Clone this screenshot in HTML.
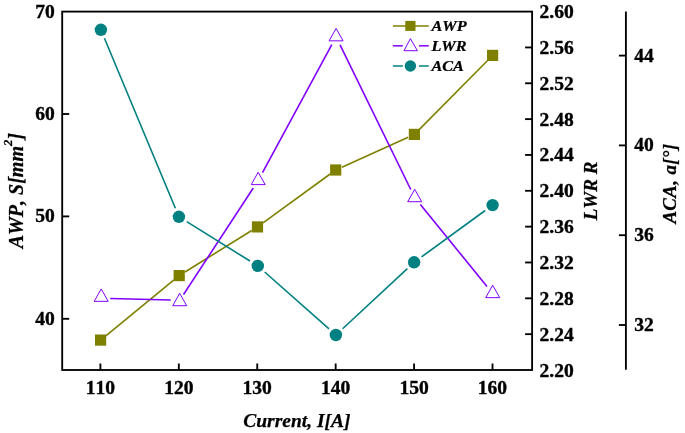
<!DOCTYPE html>
<html><head><meta charset="utf-8"><title>chart</title>
<style>html,body{margin:0;padding:0;background:#fff}svg{display:block;will-change:transform}text{font-kerning:none}text{fill:#000}</style></head>
<body>
<svg width="685" height="433" viewBox="0 0 685 433">
<rect width="685" height="433" fill="#fff"/>
<line x1="105.86" y1="335.79" x2="173.94" y2="279.91" stroke="#808000" stroke-width="1.6"/>
<line x1="184.97" y1="272.01" x2="251.73" y2="230.49" stroke="#808000" stroke-width="1.6"/>
<line x1="263.00" y1="222.90" x2="330.20" y2="174.00" stroke="#808000" stroke-width="1.6"/>
<line x1="341.90" y1="167.20" x2="408.20" y2="137.20" stroke="#808000" stroke-width="1.6"/>
<line x1="419.18" y1="129.57" x2="487.82" y2="60.23" stroke="#808000" stroke-width="1.6"/>
<line x1="110.20" y1="298.44" x2="170.70" y2="300.06" stroke="#8000ff" stroke-width="1.6"/>
<line x1="183.54" y1="294.45" x2="253.27" y2="188.03" stroke="#8000ff" stroke-width="1.6"/>
<line x1="262.49" y1="172.59" x2="331.81" y2="44.61" stroke="#8000ff" stroke-width="1.6"/>
<line x1="340.05" y1="44.79" x2="410.75" y2="189.51" stroke="#8000ff" stroke-width="1.6"/>
<line x1="420.38" y1="204.58" x2="487.02" y2="286.52" stroke="#8000ff" stroke-width="1.6"/>
<line x1="104.44" y1="38.29" x2="175.36" y2="208.31" stroke="#008080" stroke-width="1.6"/>
<line x1="186.71" y1="221.66" x2="249.99" y2="261.04" stroke="#008080" stroke-width="1.6"/>
<line x1="264.69" y1="272.00" x2="329.01" y2="328.90" stroke="#008080" stroke-width="1.6"/>
<line x1="342.64" y1="328.74" x2="407.36" y2="268.56" stroke="#008080" stroke-width="1.6"/>
<line x1="421.54" y1="256.88" x2="485.16" y2="210.52" stroke="#008080" stroke-width="1.6"/>
<rect x="95.00" y="334.50" width="11.2" height="11.2" fill="#808000"/>
<rect x="173.60" y="270.00" width="11.2" height="11.2" fill="#808000"/>
<rect x="251.90" y="221.30" width="11.2" height="11.2" fill="#808000"/>
<rect x="330.10" y="164.40" width="11.2" height="11.2" fill="#808000"/>
<rect x="408.80" y="128.80" width="11.2" height="11.2" fill="#808000"/>
<rect x="487.00" y="49.80" width="11.2" height="11.2" fill="#808000"/>
<polygon points="101.20,288.93 94.20,301.33 108.20,301.33" fill="#fff" stroke="#8000ff" stroke-width="1.0" stroke-linejoin="miter"/>
<polygon points="179.70,293.33 172.70,305.73 186.70,305.73" fill="#fff" stroke="#8000ff" stroke-width="1.0" stroke-linejoin="miter"/>
<polygon points="258.20,172.23 251.20,184.63 265.20,184.63" fill="#fff" stroke="#8000ff" stroke-width="1.0" stroke-linejoin="miter"/>
<polygon points="336.10,28.43 329.10,40.83 343.10,40.83" fill="#fff" stroke="#8000ff" stroke-width="1.0" stroke-linejoin="miter"/>
<polygon points="414.70,189.33 407.70,201.73 421.70,201.73" fill="#fff" stroke="#8000ff" stroke-width="1.0" stroke-linejoin="miter"/>
<polygon points="492.70,285.23 485.70,297.63 499.70,297.63" fill="#fff" stroke="#8000ff" stroke-width="1.0" stroke-linejoin="miter"/>
<circle cx="100.9" cy="29.8" r="6.2" fill="#008080"/>
<circle cx="178.9" cy="216.8" r="6.2" fill="#008080"/>
<circle cx="257.8" cy="265.9" r="6.2" fill="#008080"/>
<circle cx="335.9" cy="335.0" r="6.2" fill="#008080"/>
<circle cx="414.1" cy="262.3" r="6.2" fill="#008080"/>
<circle cx="492.6" cy="205.1" r="6.2" fill="#008080"/>
<rect x="62.2" y="11.6" width="469.90000000000003" height="358.4" fill="none" stroke="#000" stroke-width="1.85"/>
<line x1="625.9" y1="11.5" x2="625.9" y2="369.7" stroke="#000" stroke-width="1.85"/>
<line x1="62.2" y1="318.80" x2="69.2" y2="318.80" stroke="#000" stroke-width="1.85"/>
<text transform="translate(54.70,324.70) scale(1.085,1)" text-anchor="end" font-family="Liberation Serif" font-weight="bold" stroke="#000" stroke-width="0.35" font-size="18.0">40</text>
<line x1="62.2" y1="216.40" x2="69.2" y2="216.40" stroke="#000" stroke-width="1.85"/>
<text transform="translate(54.70,222.30) scale(1.085,1)" text-anchor="end" font-family="Liberation Serif" font-weight="bold" stroke="#000" stroke-width="0.35" font-size="18.0">50</text>
<line x1="62.2" y1="114.00" x2="69.2" y2="114.00" stroke="#000" stroke-width="1.85"/>
<text transform="translate(54.70,119.90) scale(1.085,1)" text-anchor="end" font-family="Liberation Serif" font-weight="bold" stroke="#000" stroke-width="0.35" font-size="18.0">60</text>
<text transform="translate(54.70,17.50) scale(1.085,1)" text-anchor="end" font-family="Liberation Serif" font-weight="bold" stroke="#000" stroke-width="0.35" font-size="18.0">70</text>
<line x1="100.40" y1="370.0" x2="100.40" y2="363.5" stroke="#000" stroke-width="1.85"/>
<text transform="translate(100.40,393.80) scale(1.085,1)" text-anchor="middle" font-family="Liberation Serif" font-weight="bold" stroke="#000" stroke-width="0.35" font-size="18.0">110</text>
<line x1="178.82" y1="370.0" x2="178.82" y2="363.5" stroke="#000" stroke-width="1.85"/>
<text transform="translate(178.82,393.80) scale(1.085,1)" text-anchor="middle" font-family="Liberation Serif" font-weight="bold" stroke="#000" stroke-width="0.35" font-size="18.0">120</text>
<line x1="257.24" y1="370.0" x2="257.24" y2="363.5" stroke="#000" stroke-width="1.85"/>
<text transform="translate(257.24,393.80) scale(1.085,1)" text-anchor="middle" font-family="Liberation Serif" font-weight="bold" stroke="#000" stroke-width="0.35" font-size="18.0">130</text>
<line x1="335.66" y1="370.0" x2="335.66" y2="363.5" stroke="#000" stroke-width="1.85"/>
<text transform="translate(335.66,393.80) scale(1.085,1)" text-anchor="middle" font-family="Liberation Serif" font-weight="bold" stroke="#000" stroke-width="0.35" font-size="18.0">140</text>
<line x1="414.08" y1="370.0" x2="414.08" y2="363.5" stroke="#000" stroke-width="1.85"/>
<text transform="translate(414.08,393.80) scale(1.085,1)" text-anchor="middle" font-family="Liberation Serif" font-weight="bold" stroke="#000" stroke-width="0.35" font-size="18.0">150</text>
<line x1="492.50" y1="370.0" x2="492.50" y2="363.5" stroke="#000" stroke-width="1.85"/>
<text transform="translate(492.50,393.80) scale(1.085,1)" text-anchor="middle" font-family="Liberation Serif" font-weight="bold" stroke="#000" stroke-width="0.35" font-size="18.0">160</text>
<text transform="translate(539.50,376.50) scale(1.085,1)" text-anchor="start" font-family="Liberation Serif" font-weight="bold" stroke="#000" stroke-width="0.35" font-size="18.0">2.20</text>
<line x1="532.1" y1="334.16" x2="525.1" y2="334.16" stroke="#000" stroke-width="1.85"/>
<text transform="translate(539.50,340.66) scale(1.085,1)" text-anchor="start" font-family="Liberation Serif" font-weight="bold" stroke="#000" stroke-width="0.35" font-size="18.0">2.24</text>
<line x1="532.1" y1="298.32" x2="525.1" y2="298.32" stroke="#000" stroke-width="1.85"/>
<text transform="translate(539.50,304.82) scale(1.085,1)" text-anchor="start" font-family="Liberation Serif" font-weight="bold" stroke="#000" stroke-width="0.35" font-size="18.0">2.28</text>
<line x1="532.1" y1="262.48" x2="525.1" y2="262.48" stroke="#000" stroke-width="1.85"/>
<text transform="translate(539.50,268.98) scale(1.085,1)" text-anchor="start" font-family="Liberation Serif" font-weight="bold" stroke="#000" stroke-width="0.35" font-size="18.0">2.32</text>
<line x1="532.1" y1="226.64" x2="525.1" y2="226.64" stroke="#000" stroke-width="1.85"/>
<text transform="translate(539.50,233.14) scale(1.085,1)" text-anchor="start" font-family="Liberation Serif" font-weight="bold" stroke="#000" stroke-width="0.35" font-size="18.0">2.36</text>
<line x1="532.1" y1="190.80" x2="525.1" y2="190.80" stroke="#000" stroke-width="1.85"/>
<text transform="translate(539.50,197.30) scale(1.085,1)" text-anchor="start" font-family="Liberation Serif" font-weight="bold" stroke="#000" stroke-width="0.35" font-size="18.0">2.40</text>
<line x1="532.1" y1="154.96" x2="525.1" y2="154.96" stroke="#000" stroke-width="1.85"/>
<text transform="translate(539.50,161.46) scale(1.085,1)" text-anchor="start" font-family="Liberation Serif" font-weight="bold" stroke="#000" stroke-width="0.35" font-size="18.0">2.44</text>
<line x1="532.1" y1="119.12" x2="525.1" y2="119.12" stroke="#000" stroke-width="1.85"/>
<text transform="translate(539.50,125.62) scale(1.085,1)" text-anchor="start" font-family="Liberation Serif" font-weight="bold" stroke="#000" stroke-width="0.35" font-size="18.0">2.48</text>
<line x1="532.1" y1="83.28" x2="525.1" y2="83.28" stroke="#000" stroke-width="1.85"/>
<text transform="translate(539.50,89.78) scale(1.085,1)" text-anchor="start" font-family="Liberation Serif" font-weight="bold" stroke="#000" stroke-width="0.35" font-size="18.0">2.52</text>
<line x1="532.1" y1="47.44" x2="525.1" y2="47.44" stroke="#000" stroke-width="1.85"/>
<text transform="translate(539.50,53.94) scale(1.085,1)" text-anchor="start" font-family="Liberation Serif" font-weight="bold" stroke="#000" stroke-width="0.35" font-size="18.0">2.56</text>
<text transform="translate(539.50,18.10) scale(1.085,1)" text-anchor="start" font-family="Liberation Serif" font-weight="bold" stroke="#000" stroke-width="0.35" font-size="18.0">2.60</text>
<line x1="625.9" y1="325.00" x2="618.9" y2="325.00" stroke="#000" stroke-width="1.85"/>
<text transform="translate(634.30,331.00) scale(1.085,1)" text-anchor="start" font-family="Liberation Serif" font-weight="bold" stroke="#000" stroke-width="0.35" font-size="18.0">32</text>
<line x1="625.9" y1="235.20" x2="618.9" y2="235.20" stroke="#000" stroke-width="1.85"/>
<text transform="translate(634.30,241.20) scale(1.085,1)" text-anchor="start" font-family="Liberation Serif" font-weight="bold" stroke="#000" stroke-width="0.35" font-size="18.0">36</text>
<line x1="625.9" y1="145.40" x2="618.9" y2="145.40" stroke="#000" stroke-width="1.85"/>
<text transform="translate(634.30,151.40) scale(1.085,1)" text-anchor="start" font-family="Liberation Serif" font-weight="bold" stroke="#000" stroke-width="0.35" font-size="18.0">40</text>
<line x1="625.9" y1="55.60" x2="618.9" y2="55.60" stroke="#000" stroke-width="1.85"/>
<text transform="translate(634.30,61.60) scale(1.085,1)" text-anchor="start" font-family="Liberation Serif" font-weight="bold" stroke="#000" stroke-width="0.35" font-size="18.0">44</text>
<text id="tx" x="296.9" y="427.3" text-anchor="middle" font-family="Liberation Serif" font-weight="bold" font-style="italic" stroke="#000" stroke-width="0.25" font-size="19.5">Current, I[A]</text>
<text id="tl" transform="translate(23.0,248.3) rotate(-90)" font-family="Liberation Serif" font-weight="bold" font-style="italic" stroke="#000" stroke-width="0.25" font-size="20">AWP, S[mm<tspan font-size="12.5" dy="-11.5">2</tspan><tspan dy="11.5">]</tspan></text>
<text id="tr1" transform="translate(596.6,191) rotate(-90)" text-anchor="middle" font-family="Liberation Serif" font-weight="bold" font-style="italic" stroke="#000" stroke-width="0.25" font-size="19">LWR R</text>
<text id="tr2" transform="translate(676.2,223.6) rotate(-90)" font-family="Liberation Serif" font-weight="bold" font-style="italic" stroke="#000" stroke-width="0.25" font-size="19" letter-spacing="0.3">ACA, a[°]</text>
<line x1="392.9" y1="25.9" x2="428.8" y2="25.9" stroke="#808000" stroke-width="1.5"/>
<rect x="405.3" y="20.9" width="10.2" height="10" fill="#808000"/>
<line x1="392.9" y1="45.8" x2="402.8" y2="45.8" stroke="#8000ff" stroke-width="1.5"/>
<line x1="419" y1="45.8" x2="428.8" y2="45.8" stroke="#8000ff" stroke-width="1.5"/>
<line x1="392.9" y1="66.0" x2="402.8" y2="66.0" stroke="#008080" stroke-width="1.5"/>
<line x1="419" y1="66.0" x2="428.8" y2="66.0" stroke="#008080" stroke-width="1.5"/>
<polygon points="410.4,38.6 404,50.7 417.4,50.7" fill="#fff" stroke="#8000ff" stroke-width="1"/>
<circle cx="410.4" cy="66.0" r="5.7" fill="#008080"/>
<text transform="translate(431.4,31.0) scale(1.12,1)" font-family="Liberation Serif" font-weight="bold" font-style="italic" stroke="#000" stroke-width="0.25" font-size="14.5">AWP</text>
<text transform="translate(431.4,50.9) scale(1.12,1)" font-family="Liberation Serif" font-weight="bold" font-style="italic" stroke="#000" stroke-width="0.25" font-size="14.5">LWR</text>
<text transform="translate(431.4,71.1) scale(1.12,1)" font-family="Liberation Serif" font-weight="bold" font-style="italic" stroke="#000" stroke-width="0.25" font-size="14.5">ACA</text>
</svg>
</body></html>
